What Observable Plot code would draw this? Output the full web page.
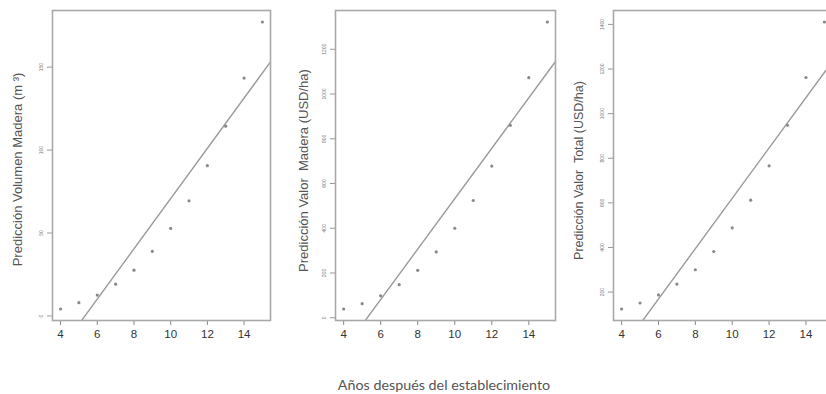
<!DOCTYPE html>
<html>
<head>
<meta charset="utf-8">
<script src="https://cdn.jsdelivr.net/npm/d3@7"></script>
<script src="https://cdn.jsdelivr.net/npm/@observablehq/plot@0.6"></script>
<style>
  html, body { margin: 0; padding: 0; background: #fff; }
  #wrap { position: relative; width: 826px; height: 394px; overflow: hidden; background: #fff; }
  .panel { position: absolute; top: 0; width: 283px; height: 350px; }
  .panel svg { max-width: none !important; display: block; }
  #xtitle { position: absolute; top: 376px; left: 0; width: 888px; text-align: center;
            font-family: Lato, "Open Sans", sans-serif; font-size: 14.3px; color: #555; }
</style>
</head>
<body>
<div id="wrap">
  <div class="panel" id="p1" style="left:0px"></div>
  <div class="panel" id="p2" style="left:283px"></div>
  <div class="panel" id="p3" style="left:561px"></div>
  <div id="xtitle"></div>
</div>
<script>
// ---- data ----
const years = [4, 5, 6, 7, 8, 9, 10, 11, 12, 13, 14, 15];
const volumenMadera = [4.2, 8, 12.6, 19.2, 27.6, 39, 52.8, 69.4, 90.6, 114.4, 143.4, 177.2];
const valorMadera = [39, 63, 98, 148, 212, 294, 400, 524, 678, 860, 1073, 1322];
const valorTotal = [124, 151, 187, 236, 300, 382, 488, 612, 766, 948, 1162, 1411];

const xTicks = [4, 6, 8, 10, 12, 14];
const yTicksVolumen = [0, 50, 100, 150];
const yTicksValorMadera = [0, 200, 400, 600, 800, 1000, 1200];
const yTicksValorTotal = [200, 400, 600, 800, 1000, 1200, 1400];

const yTitleVolumen = "Predicción Volumen Madera (m ³)";
const yTitleValorMadera = "Predicción Valor\u00a0 Madera (USD/ha)";
const yTitleValorTotal = "Predicción Valor\u00a0 Total (USD/ha)";
const xTitle = "Años después del establecimiento";

// R-style 4% padded domain
function padDomain(vals) {
  const [lo, hi] = d3.extent(vals);
  const p = (hi - lo) * 0.04;
  return [lo - p, hi + p];
}
function fit(xs, ys) {
  const mx = d3.mean(xs), my = d3.mean(ys);
  const b = d3.sum(xs, (x, i) => (x - mx) * (ys[i] - my)) / d3.sum(xs, x => (x - mx) ** 2);
  const a = my - b * mx;
  return x => a + b * x;
}

function panel(values, yTicks, title, opts) {
  const data = years.map((x, i) => ({x, y: values[i]}));
  const xDom = padDomain(years);
  const yDom = padDomain(values);
  const f = fit(years, values);
  const lineData = xDom.map(x => ({x, y: f(x)}));
  return Plot.plot({
    width: 283, height: 350,
    marginLeft: 52, marginRight: opts.mr, marginTop: 10, marginBottom: 30,
    x: {domain: xDom, label: null},
    y: {domain: yDom, label: null},
    style: {background: "transparent", fontFamily: "'Liberation Sans', Arial, sans-serif"},
    marks: [
      Plot.axisX({ticks: xTicks, tickSize: 5, text: null, label: null, stroke: "#888", strokeWidth: 1}),
      Plot.axisX({ticks: xTicks, tickSize: 0, tickPadding: 9, label: null, fontSize: 11.5, fill: "#333", tickFormat: d => String(d)}),
      Plot.axisY({ticks: yTicks, tickSize: 5, text: null, label: null, stroke: "#999", strokeWidth: 1}),
      Plot.axisY({ticks: yTicks, tickSize: 0, tickPadding: 11, label: null, rotate: -90, textAnchor: "middle",
                  fontSize: 5, fill: "#777", tickFormat: d => String(d)}),
      Plot.line(lineData, {x: "x", y: "y", stroke: "#9a9a9a", strokeWidth: 1.4, clip: true}),
      Plot.dot(data, {x: "x", y: "y", r: 1.6, fill: "#888", stroke: "none"}),
      Plot.frame({stroke: "#a8a8a8", strokeWidth: 1.6}),
      Plot.text([title], {text: d => d, frameAnchor: "left", rotate: -90, dx: opts.tdx, dy: opts.tdy,
                          fontSize: opts.fs, fill: "#555", textAnchor: "middle", lineAnchor: "middle"})
    ]
  });
}

document.getElementById("p1").append(panel(volumenMadera, yTicksVolumen, yTitleVolumen, {mr: 13, tdx: -35, tdy: 4, fs: 13}));
document.getElementById("p2").append(panel(valorMadera, yTicksValorMadera, yTitleValorMadera, {mr: 11, tdx: -32, tdy: 5, fs: 13}));
document.getElementById("p3").append(panel(valorTotal, yTicksValorTotal, yTitleValorTotal, {mr: 12, tdx: -35, tdy: 5, fs: 12.5}));
document.getElementById("xtitle").textContent = xTitle;
</script>
</body>
</html>
